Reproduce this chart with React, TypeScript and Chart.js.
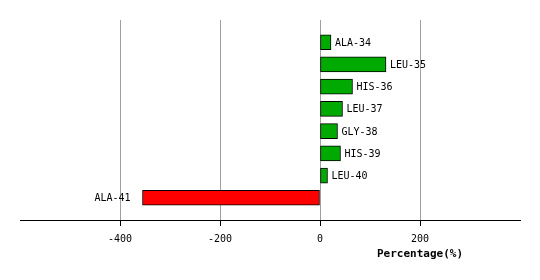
import React, { useEffect, useRef } from "react";
import { Chart, registerables } from "chart.js";

Chart.register(...registerables);

const residues = ["ALA-34", "LEU-35", "HIS-36", "LEU-37", "GLY-38", "HIS-39", "LEU-40", "ALA-41"];
const percentages = [22, 132, 65, 45, 35, 41, 15, -355];
const tickValues = [-400, -200, 0, 200];
const axisTitle = "Percentage(%)";

const FONT = "'DejaVu Sans Mono', monospace";

export default function App() {
  const ref = useRef<HTMLCanvasElement | null>(null);

  useEffect(() => {
    document.body.style.margin = "0";
    const canvas = ref.current;
    if (!canvas) return;

    const labels = ["", ...residues, ""];
    const data = [null, ...percentages, null];
    const colors = labels.map((_, i) => {
      const v = data[i];
      return v !== null && v < 0 ? "#ff0000" : "#00aa00";
    });

    const labelPlugin = {
      id: "barLabels",
      afterDatasetsDraw(chart: any) {
        const ctx = chart.ctx;
        const meta = chart.getDatasetMeta(0);
        ctx.save();
        ctx.font = `10px ${FONT}`;
        ctx.fillStyle = "#000";
        ctx.textBaseline = "middle";
        meta.data.forEach((el: any, i: number) => {
          const v = data[i];
          if (v === null) return;
          const { x, y, base } = el.getProps(["x", "y", "base"], true);
          if (v >= 0) {
            ctx.textAlign = "left";
            ctx.fillText(labels[i], Math.max(x, base) + 4, y + 1);
          } else {
            ctx.textAlign = "right";
            ctx.fillText(labels[i], Math.min(x, base) - 12, y + 1);
          }
        });
        ctx.restore();
      },
      afterDraw(chart: any) {
        const ctx = chart.ctx;
        const xs = chart.scales.x;
        ctx.save();
        ctx.font = `bold 11px ${FONT}`;
        ctx.fillStyle = "#000";
        ctx.textAlign = "center";
        ctx.textBaseline = "middle";
        ctx.fillText(axisTitle, xs.getPixelForValue(200), 254);
        ctx.restore();
      },
    };

    const chart = new Chart(canvas, {
      type: "bar",
      data: {
        labels,
        datasets: [
          {
            data,
            backgroundColor: colors,
            borderColor: "#000",
            borderWidth: 1,
            borderSkipped: false,
            barThickness: 15,
          },
        ],
      },
      options: {
        indexAxis: "y",
        animation: false,
        responsive: false,
        maintainAspectRatio: false,
        layout: { padding: { left: 20, right: 20, top: 20, bottom: 20 } },
        plugins: { legend: { display: false }, tooltip: { enabled: false } },
        scales: {
          y: {
            type: "category",
            offset: false,
            display: false,
          },
          x: {
            type: "linear",
            min: -600,
            max: 400,
            afterBuildTicks(scale: any) {
              scale.ticks = tickValues.map((v) => ({ value: v }));
            },
            afterFit(scale: any) {
              scale.height = 40;
            },
            grid: {
              color: "#a0a0a0",
              tickColor: "#000",
              tickLength: 6,
              lineWidth: 1,
            },
            border: { color: "#000", width: 1 },
            ticks: {
              font: { family: FONT, size: 10 },
              color: "#000",
              padding: 7,
              maxRotation: 0,
            },
          },
        },
      },
      plugins: [labelPlugin],
    });

    return () => chart.destroy();
  }, []);

  return <canvas ref={ref} width={540} height={280} style={{ display: "block" }} />;
}
